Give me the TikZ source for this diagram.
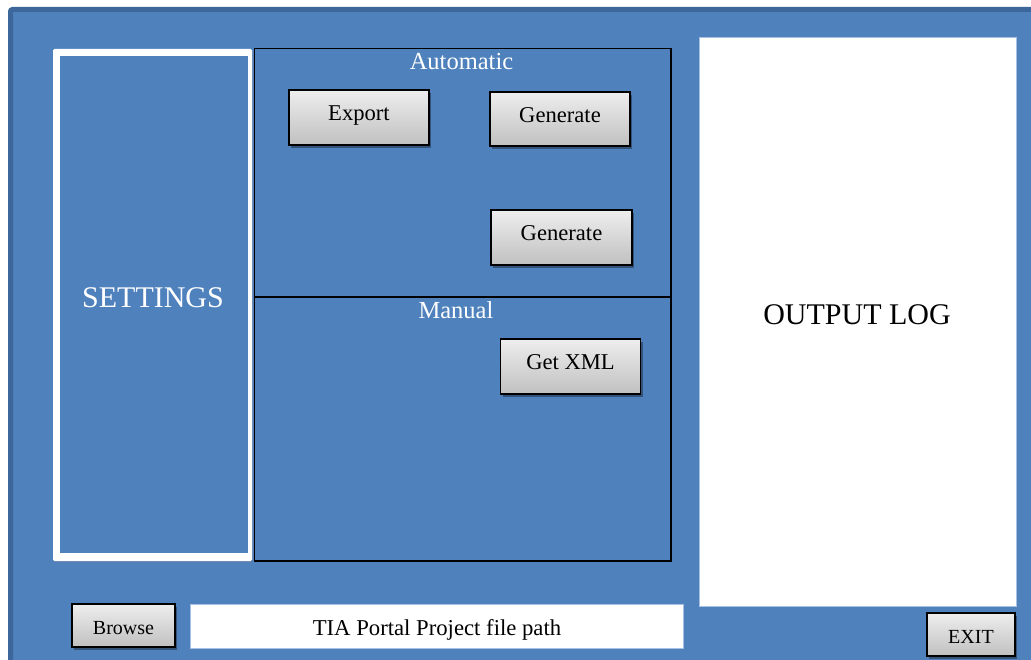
\documentclass[tikz,border=0pt]{standalone}
\usepackage{fontspec}
\setmainfont{Liberation Serif}
\usetikzlibrary{shadows}

\definecolor{panelblue}{HTML}{4F81BD}
\definecolor{frameblue}{HTML}{3D669A}
\definecolor{btntop}{HTML}{EEEEEE}
\definecolor{btnbot}{HTML}{C0C0C0}
\definecolor{fieldedge}{HTML}{A7C1E2}

\tikzset{
  btnbase/.style={draw=black, line width=1.6pt, top color=btntop, bottom color=btnbot,
    inner sep=0pt, text depth=0pt,
    drop shadow={shadow xshift=2pt, shadow yshift=-3pt, opacity=0.35, fill=black}},
  bigbutton/.style={btnbase, text height=7pt, font=\fontsize{22.6}{27}\selectfont},
  smallbutton/.style={btnbase, text height=17pt, font=\fontsize{20}{24}\selectfont},
  paneltitle/.style={anchor=base, inner sep=0pt, text=white, font=\fontsize{24.5}{29}\selectfont},
  bigcaption/.style={anchor=base, inner sep=0pt, font=\fontsize{30}{34}\selectfont},
}

\begin{document}
\begin{tikzpicture}[x=1pt, y=-1pt]
  \useasboundingbox (0,0) rectangle (1031,660);
  \clip (0,0) rectangle (1031,660);
  \fill[white] (0,0) rectangle (1031,660);

  % window frame, running off the right and bottom edges
  \draw[frameblue, line width=5pt, fill=panelblue, rounded corners=2pt]
    (10.5,9.5) rectangle (1045,675);

  % settings column
  \fill[white, rounded corners=1.5pt,
        drop shadow={shadow xshift=1pt, shadow yshift=-1.5pt, opacity=0.25}]
    (53,49) rectangle (252,561);
  \fill[panelblue] (60,56) rectangle (248,553);
  \node[bigcaption, text=white] (settings) at (153,308) {SETTINGS};

  % automatic and manual panels
  \draw[black, line width=1.6pt] (254.5,48.5) rectangle (671,297);
  \draw[black, line width=1.6pt] (254.5,297.5) rectangle (671,561);
  \node[paneltitle] (automatic) at (461.5,70) {Automatic};
  \node[paneltitle] (manual) at (456,319) {Manual};

  % buttons
  \node[bigbutton, minimum width=140pt, minimum height=55pt] (export) at (359,117.5) {Export};
  \node[bigbutton, minimum width=140pt, minimum height=54pt] (generateA) at (560,119) {Generate};
  \node[bigbutton, minimum width=141pt, minimum height=55pt] (generateB) at (561.5,237.5) {Generate};
  \node[bigbutton, minimum width=140pt, minimum height=55pt] (getxml) at (570.5,366.5) {Get XML};

  % output log
  \draw[fieldedge, line width=0.8pt, fill=white] (699,37) rectangle (1016,606);
  \node[bigcaption] (outputlog) at (857,325) {OUTPUT LOG};

  % bottom row
  \node[smallbutton, minimum width=103pt, minimum height=43pt] (browse) at (123.5,625.5) {Browse};
  \draw[fieldedge, line width=0.8pt, fill=white] (190,604) rectangle (683,648);
  \node[anchor=base, inner sep=0pt, font=\fontsize{22.7}{27}\selectfont] (filepath) at (437,635) {TIA Portal Project file path};
  \node[smallbutton, minimum width=88pt, minimum height=43pt] (exit) at (971,634.5) {EXIT};
\end{tikzpicture}
\end{document}
